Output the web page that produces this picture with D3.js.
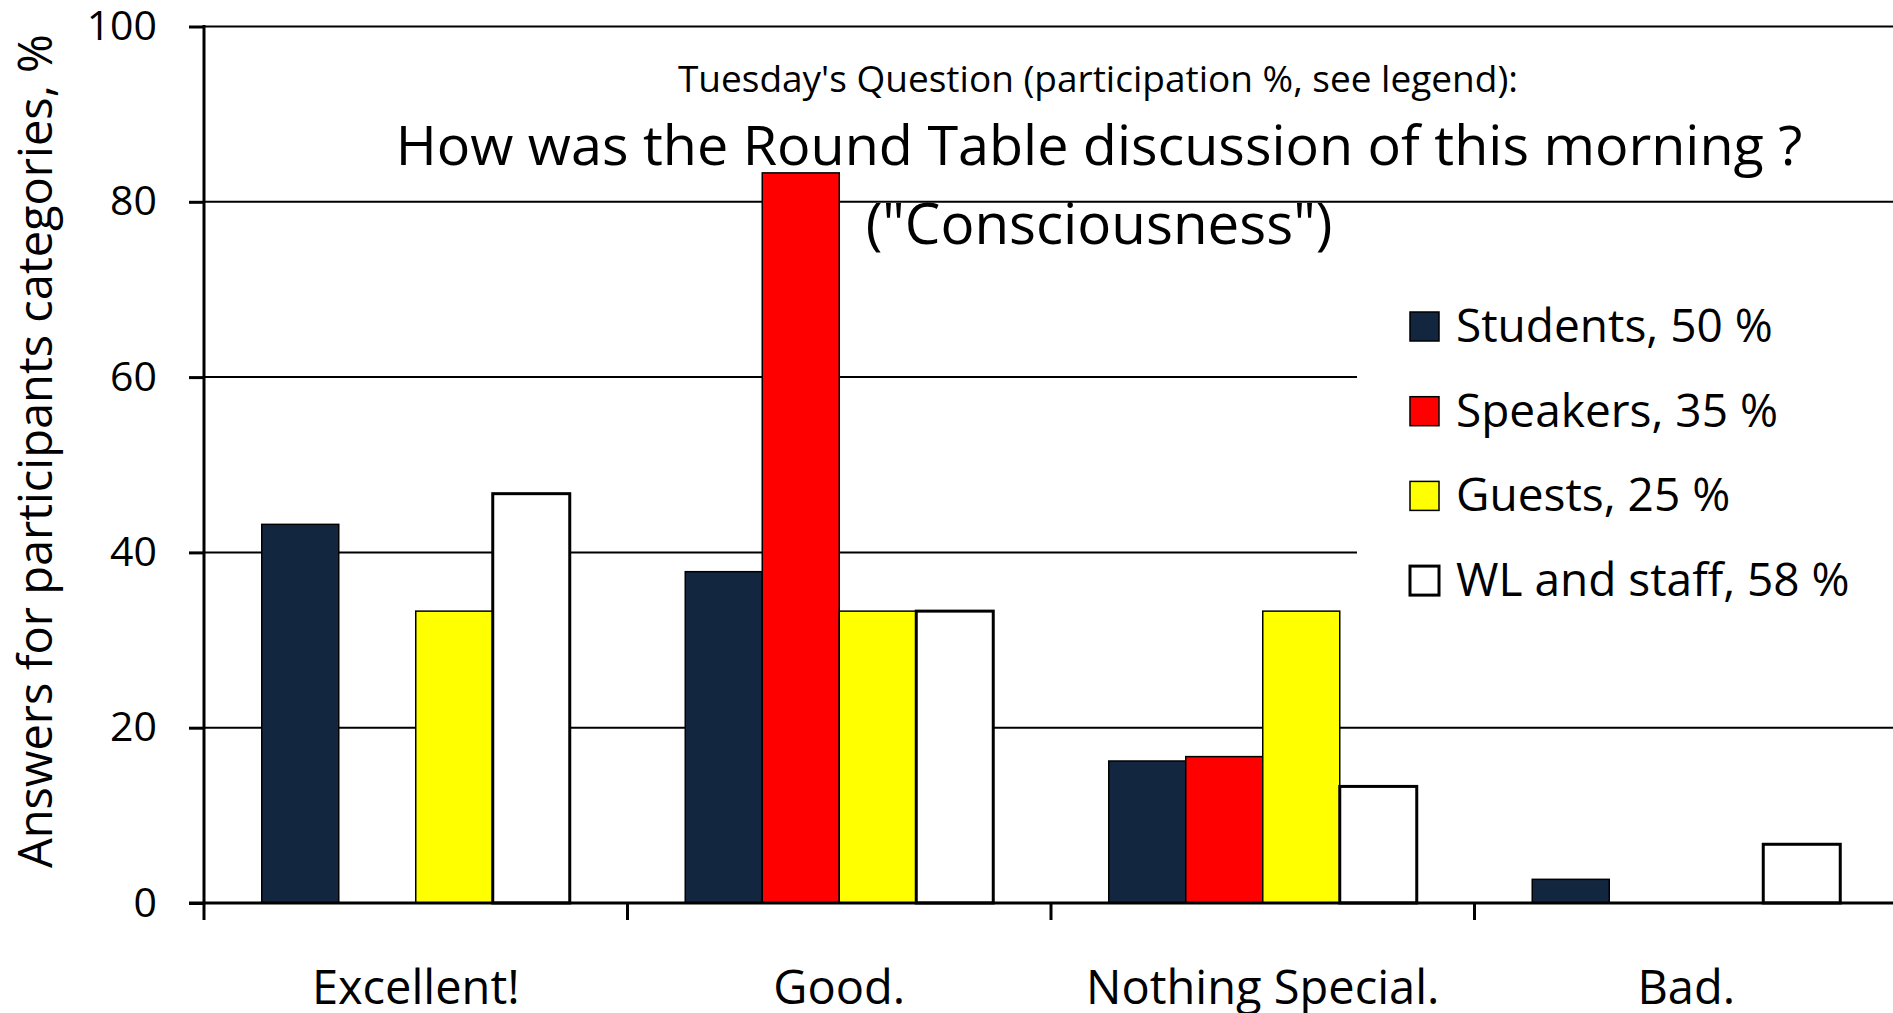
<!DOCTYPE html>
<html>
<head>
<meta charset="utf-8">
<script src="https://cdn.jsdelivr.net/npm/d3@7"></script>
<style>
	body { margin: 0; background: #fff; }
	svg { display: block; font-family: "Open Sans", sans-serif; }
</style>
</head>
<body>
<div id="chart"></div>
<script>
// Answer categories on the x axis
var categories = ["Excellent!", "Good.", "Nothing Special.", "Bad."];

// Participant groups (legend labels)
var groupNames = ["Students, 50 %", "Speakers, 35 %", "Guests, 25 %", "WL and staff, 58 %"];

// Answers per group, % of each group, in category order
var students = [43.2, 37.8, 16.2, 2.7];
var speakers = [0, 83.3, 16.7, 0];
var guests = [33.3, 33.3, 33.3, 0];
var wlStaff = [46.7, 33.3, 13.3, 6.7];

var groupColors = ["#13263f", "#ff0000", "#ffff00", "#ffffff"];
var yTicks = [0, 20, 40, 60, 80, 100];

var subTitle = "Tuesday's Question (participation %, see legend):";
var mainTitle = "How was the Round Table discussion of this morning ?";
var mainTitle2 = "(\"Consciousness\")";
var yTitle = "Answers for participants categories, %";

function showChart(containerId) {
	var width = 1893, height = 1013;
	var plot = {left: 204, right: 1898, top: 26.5, bottom: 903};

	var seriesValues = [students, speakers, guests, wlStaff];

	var svg = d3.select("#" + containerId).append("svg")
		.attr("width", width)
		.attr("height", height);

	var x = d3.scaleBand()
		.domain(categories)
		.range([plot.left, plot.right])
		.paddingInner(0)
		.paddingOuter(0);

	// Bars inside one category, with white space on both sides
	var xGroup = d3.scaleBand()
		.domain(groupNames)
		.range([0, x.bandwidth()])
		.paddingInner(0)
		.paddingOuter(0.75);

	var y = d3.scaleLinear()
		.domain([0, 100])
		.range([plot.bottom, plot.top]);

	var color = d3.scaleOrdinal()
		.domain(groupNames)
		.range(groupColors);

	// Horizontal grid lines
	svg.append("g").selectAll(".grid")
		.data(yTicks.filter(function(d) { return d > 0; }))
		.enter().append("line")
		.attr("class", "grid")
		.attr("x1", plot.left)
		.attr("x2", width)
		.attr("y1", function(d) { return y(d); })
		.attr("y2", function(d) { return y(d); })
		.attr("stroke", "#000")
		.attr("stroke-width", 2);

	// Legend box hides the grid behind it
	var legendX = 1357;
	svg.append("rect")
		.attr("x", legendX)
		.attr("y", 250)
		.attr("width", width - legendX)
		.attr("height", 420)
		.attr("fill", "#fff");

	// Flatten to one record per bar
	var barData = [];
	categories.forEach(function(cat, i) {
		groupNames.forEach(function(g, j) {
			barData.push({cat: cat, group: g, value: seriesValues[j][i]});
		});
	});

	svg.append("g").selectAll(".bar")
		.data(barData.filter(function(d) { return d.value > 0; }))
		.enter().append("rect")
		.attr("class", "bar")
		.attr("x", function(d) { return x(d.cat) + xGroup(d.group); })
		.attr("y", function(d) { return y(d.value); })
		.attr("width", xGroup.bandwidth())
		.attr("height", function(d) { return y(0) - y(d.value); })
		.attr("fill", function(d) { return color(d.group); })
		.attr("stroke", "#000")
		.attr("stroke-width", function(d) { return d.group == groupNames[3] ? 3 : 1.5; });

	// Y axis
	var yAxis = d3.axisLeft(y)
		.tickValues(yTicks)
		.tickSize(15)
		.tickPadding(32);

	var yAxisG = svg.append("g")
		.attr("transform", "translate(" + plot.left + ",0)")
		.call(yAxis);
	yAxisG.select(".domain").remove();
	yAxisG.selectAll(".tick line").attr("stroke-width", 3);
	yAxisG.selectAll(".tick text")
		.attr("fill", "#000")
		.style("font-size", "41px")
		.style("font-family", "Open Sans");

	svg.append("line")
		.attr("x1", plot.left).attr("x2", plot.left)
		.attr("y1", y(100) - 1.5).attr("y2", plot.bottom + 17)
		.attr("stroke", "#000")
		.attr("stroke-width", 3);

	// X axis baseline, ticks between categories, labels in the middle
	svg.append("line")
		.attr("x1", plot.left - 15).attr("x2", width)
		.attr("y1", y(0)).attr("y2", y(0))
		.attr("stroke", "#000")
		.attr("stroke-width", 3);

	svg.append("g").selectAll(".x_tick")
		.data(categories.slice(1))
		.enter().append("line")
		.attr("class", "x_tick")
		.attr("x1", function(d) { return x(d); })
		.attr("x2", function(d) { return x(d); })
		.attr("y1", y(0))
		.attr("y2", y(0) + 17)
		.attr("stroke", "#000")
		.attr("stroke-width", 3);

	svg.append("g").selectAll(".x_label")
		.data(categories)
		.enter().append("text")
		.attr("class", "x_label")
		.attr("x", function(d) { return x(d) + x.bandwidth() / 2; })
		.attr("y", 1004)
		.attr("text-anchor", "middle")
		.style("font-size", "47px")
		.text(function(d) { return d; });

	// Y axis title
	svg.append("text")
		.attr("transform", "translate(52," + 451 + ") rotate(-90)")
		.attr("text-anchor", "middle")
		.style("font-size", "47px")
		.text(yTitle);

	// Titles
	svg.append("text")
		.attr("x", 1098).attr("y", 92)
		.attr("text-anchor", "middle")
		.style("font-size", "37px")
		.text(subTitle);

	svg.append("text")
		.attr("x", 1099).attr("y", 165)
		.attr("text-anchor", "middle")
		.style("font-size", "55.7px")
		.text(mainTitle);

	svg.append("text")
		.attr("x", 1099).attr("y", 244)
		.attr("text-anchor", "middle")
		.style("font-size", "56.5px")
		.text(mainTitle2);

	// Legend
	var legend = svg.append("g").selectAll(".legend_item")
		.data(groupNames)
		.enter().append("g")
		.attr("class", "legend_item")
		.attr("transform", function(d, i) { return "translate(1410," + (312 + i * 84.7) + ")"; });

	legend.append("rect")
		.attr("width", 29)
		.attr("height", 29)
		.attr("fill", function(d) { return color(d); })
		.attr("stroke", "#000")
		.attr("stroke-width", function(d, i) { return i == 3 ? 3 : 1.5; });

	legend.append("text")
		.attr("x", 46)
		.attr("y", 30)
		.style("font-size", "46px")
		.text(function(d) { return d; });
}

showChart("chart");
</script>
</body>
</html>
